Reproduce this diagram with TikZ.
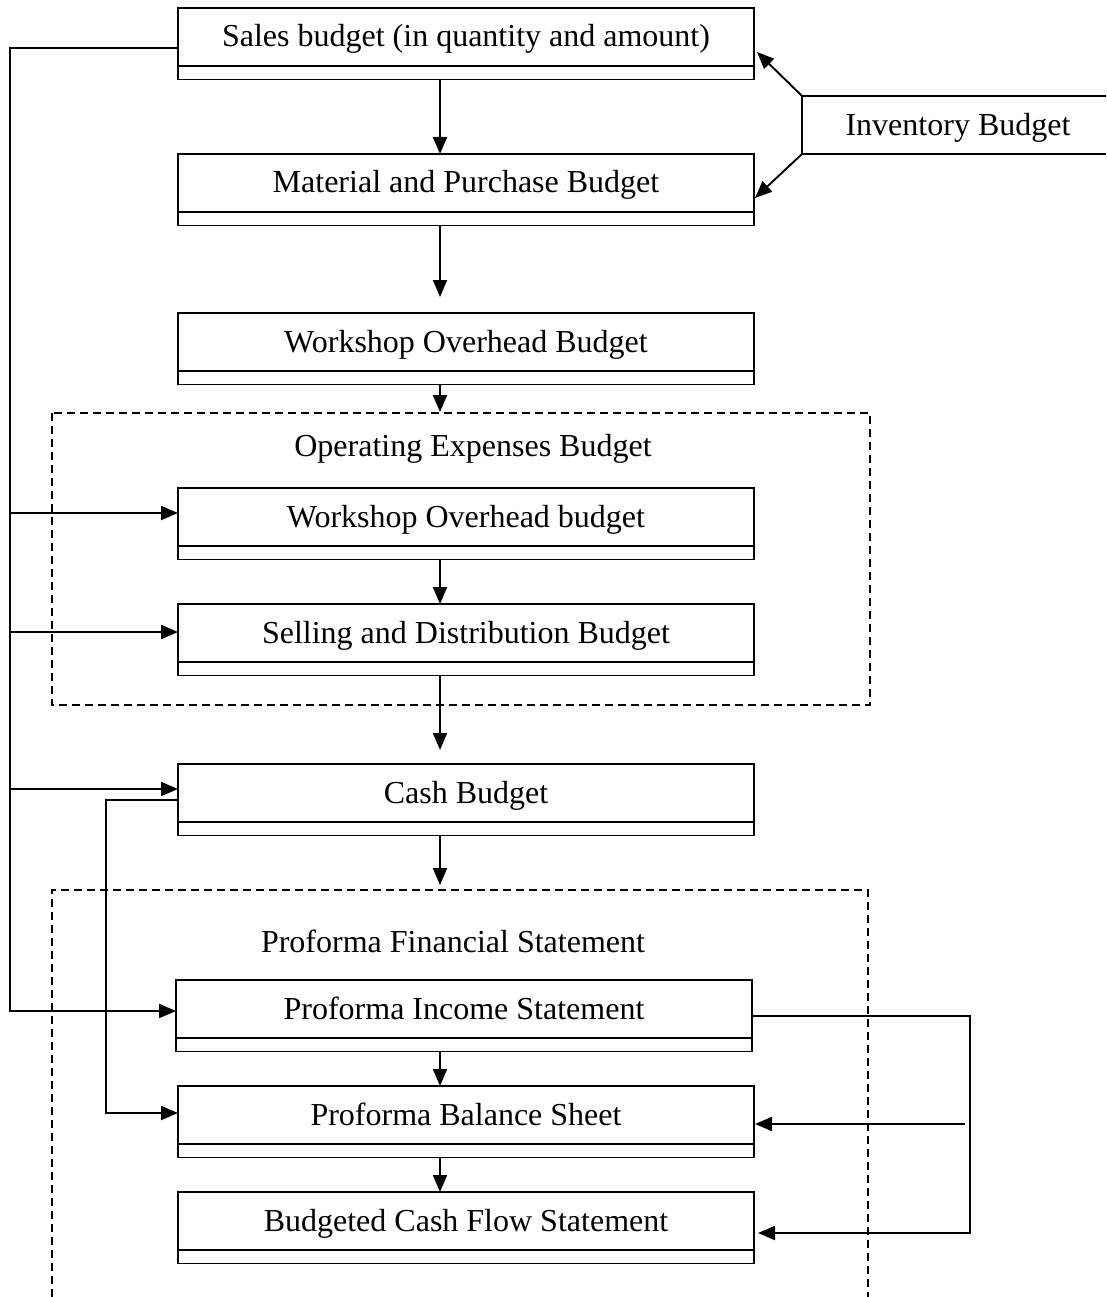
\documentclass[tikz,border=0pt]{standalone}
\usepackage{fontspec}
\setmainfont{Liberation Serif}
\usetikzlibrary{arrows.meta,calc}
\begin{document}
\begin{tikzpicture}[x=1pt,y=-1pt,line width=1.9pt,
  box/.style={draw,minimum width=576pt,minimum height=58pt,anchor=north west,outer sep=0pt,
    inner sep=0pt,text height=24pt,text depth=4pt,font=\fontsize{32}{38}\selectfont},
  strip/.style={draw,minimum width=576pt,minimum height=13.5pt,anchor=north,inner sep=0pt,outer sep=0pt},
  arr/.style={-{Triangle[length=17pt,width=14pt]}},
  frame/.style={dash pattern=on 8pt off 5pt},
  lbl/.style={font=\fontsize{32}{38}\selectfont,inner sep=0pt,text height=24pt,text depth=4pt}]
\useasboundingbox (0,0) rectangle (1106,1297);

% budget boxes with their lower strips
\node[box] (sales) at (178,8) {Sales budget (in quantity and amount)};
\node[strip] (salesS) at (sales.south) {};
\node[box] (mat) at (178,154) {Material and Purchase Budget};
\node[strip] (matS) at (mat.south) {};
\node[box] (wo) at (178,313) {Workshop Overhead Budget};
\node[strip] (woS) at (wo.south) {};
\node[box] (wob) at (178,488) {Workshop Overhead budget};
\node[strip] (wobS) at (wob.south) {};
\node[box] (sel) at (178,604) {Selling and Distribution Budget};
\node[strip] (selS) at (sel.south) {};
\node[box] (cash) at (178,764) {Cash Budget};
\node[strip] (cashS) at (cash.south) {};
\node[box] (inc) at (176,980) {Proforma Income Statement};
\node[strip] (incS) at (inc.south) {};
\node[box] (bal) at (178,1086) {Proforma Balance Sheet};
\node[strip] (balS) at (bal.south) {};
\node[box] (cfl) at (178,1192) {Budgeted Cash Flow Statement};
\node[strip] (cflS) at (cfl.south) {};

% inventory budget, open to the right
\node[minimum width=304pt,minimum height=58pt,anchor=north west,inner sep=0pt,outer sep=0pt] (inv) at (802,96) {};
\node[lbl] (invT) at (958,126) {Inventory Budget};
\draw (inv.north east) -- (inv.north west) -- (inv.south west) -- (inv.south east);
\draw[arr] (inv.north west) -- ($(sales.east)+(3,15)$);
\draw[arr] (inv.south west) -- ($(mat.east)+(1,15)$);

% dashed groups
\draw[frame] (52,413) rectangle (870,705);
\node[lbl] (opT) at (473,446) {Operating Expenses Budget};
\draw[frame] (52,1297) -- (52,890) -- (868,890) -- (868,1297);
\node[lbl] (pfT) at (453,942) {Proforma Financial Statement};

% main vertical flow
\coordinate (ax) at (440,0);
\coordinate (e1) at (440,297);
\coordinate (e2) at (440,412);
\coordinate (e3) at (440,750);
\coordinate (e4) at (440,885);
\draw[arr] (salesS.south -| ax) -- (mat.north -| ax);
\draw[arr] (matS.south -| ax) -- (e1);
\draw[arr] (woS.south -| ax) -- (e2);
\draw[arr] (wobS.south -| ax) -- (sel.north -| ax);
\draw[arr] (selS.south -| ax) -- (e3);
\draw[arr] (cashS.south -| ax) -- (e4);
\draw[arr] (incS.south -| ax) -- (bal.north -| ax);
\draw[arr] (balS.south -| ax) -- (cfl.north -| ax);

% sales feed line on the left
\coordinate (lb) at (10,1011);
\coordinate (sOut) at ($(sales.west)+(0,11)$);
\draw[arr] (sOut) -| (lb) -- (inc.west |- lb);
\coordinate (wIn) at ($(wob.west)+(0,-4)$);
\draw[arr] (wIn -| lb) -- (wIn);
\coordinate (sIn) at ($(sel.west)+(0,-1)$);
\draw[arr] (sIn -| lb) -- (sIn);
\coordinate (cIn) at ($(cash.west)+(0,-4)$);
\draw[arr] (cIn -| lb) -- (cIn);

% cash budget to balance sheet
\coordinate (m) at (106,0);
\coordinate (cOut) at ($(cash.west)+(0,7)$);
\coordinate (bIn) at ($(bal.west)+(0,-2)$);
\draw[arr] (cOut) -| (m |- bIn) -- (bIn);

% income statement loop on the right
\coordinate (rx) at (970,0);
\coordinate (rx2) at (965,0);
\coordinate (iOut) at ($(inc.east)+(0,7)$);
\coordinate (cfIn) at ($(cfl.east)+(4,12)$);
\draw[arr] (iOut) -| (rx |- cfIn) -- (cfIn);
\coordinate (bRIn) at ($(bal.east)+(1,9)$);
\draw[arr] (bRIn -| rx2) -- (bRIn);
\end{tikzpicture}
\end{document}
